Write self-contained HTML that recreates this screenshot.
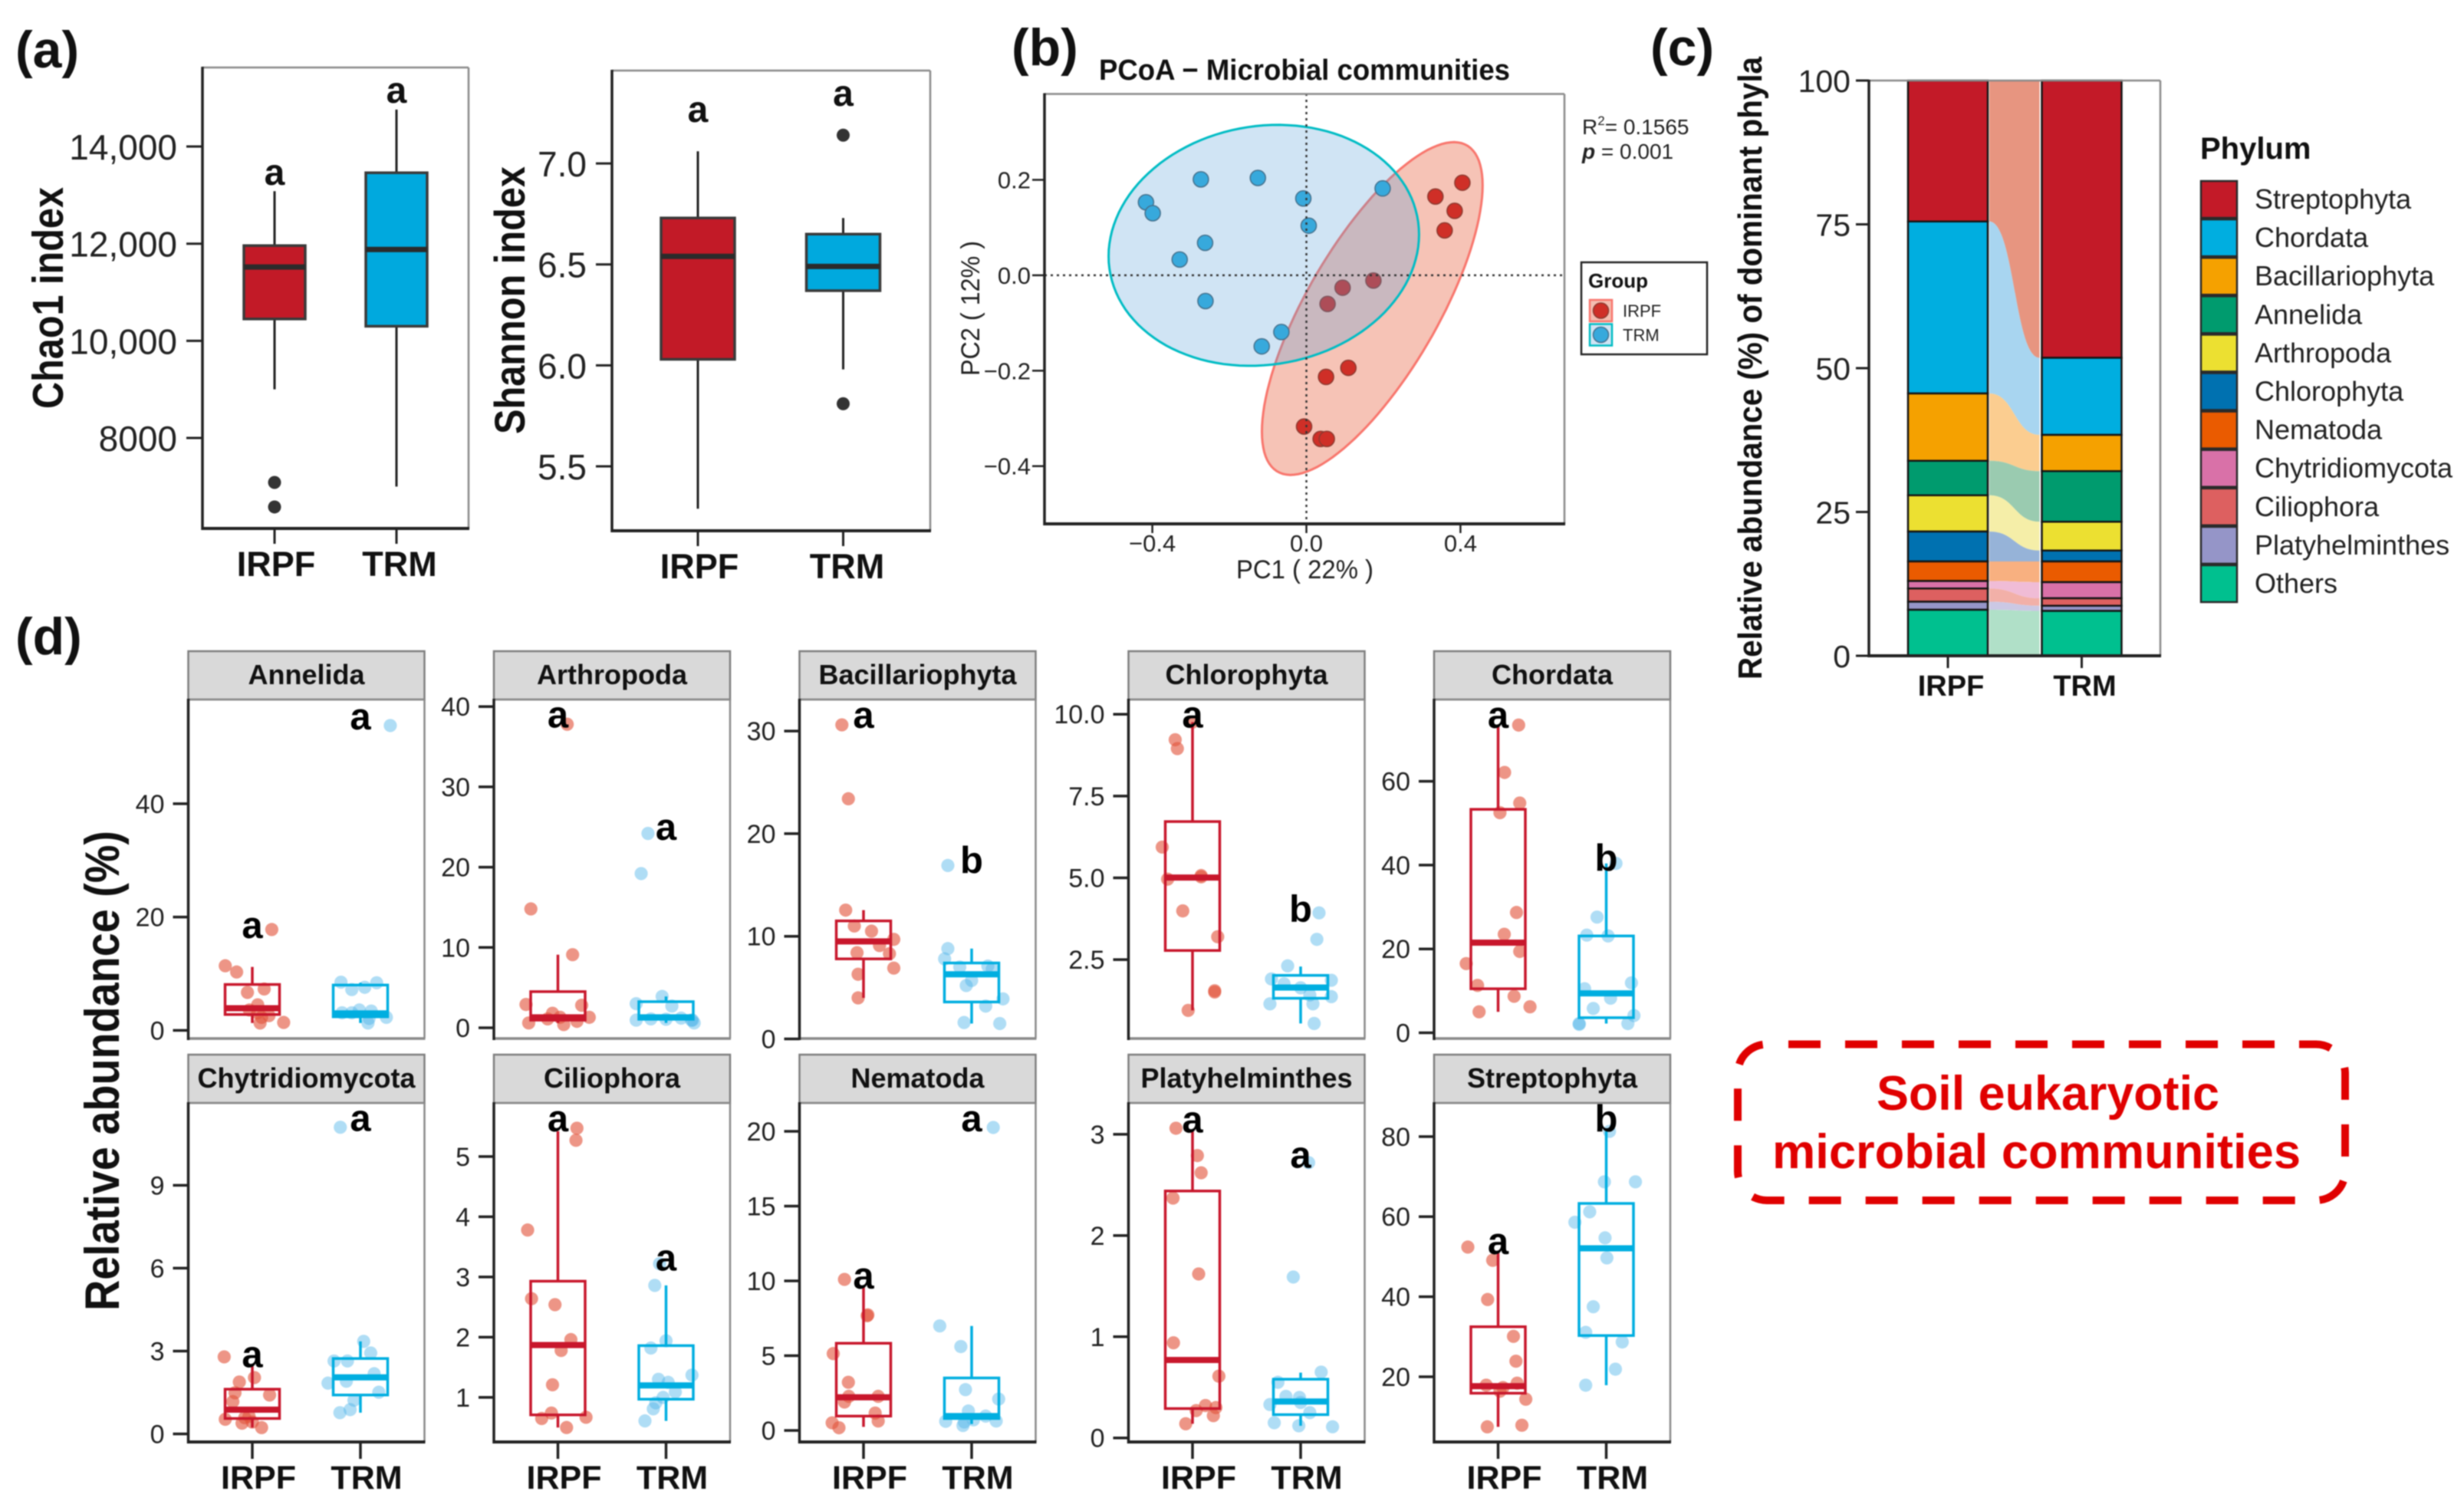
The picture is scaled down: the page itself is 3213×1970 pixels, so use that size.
<!DOCTYPE html>
<html lang="en">
<head>
<meta charset="utf-8">
<title>Soil eukaryotic microbial communities figure</title>
<style>
html,body{margin:0;padding:0;background:#fff}
svg{display:block;font-family:"Liberation Sans",Arial,sans-serif;filter:blur(0.7px)}
</style>
</head>
<body>
<svg id="figure" xmlns="http://www.w3.org/2000/svg" width="3213" height="1970" viewBox="0 0 3213 1970">
<rect x="0" y="0" width="3213" height="1970" fill="#fff"/>
<text x="20" y="88" font-size="68" font-weight="700" fill="#111">(a)</text>
<text x="1319" y="85" font-size="68" font-weight="700" fill="#111">(b)</text>
<text x="2152" y="85" font-size="68" font-weight="700" fill="#111">(c)</text>
<text x="20" y="853" font-size="68" font-weight="700" fill="#111">(d)</text>
<text x="1433" y="104" font-size="38" font-weight="700" fill="#111" textLength="536" lengthAdjust="spacingAndGlyphs">PCoA − Microbial communities</text>
<text x="2063" y="175" font-size="28" fill="#222">R<tspan font-size="17" dy="-12">2</tspan><tspan dy="12">= 0.1565</tspan></text>
<text x="2063" y="207" font-size="28" fill="#222"><tspan font-weight="700" font-style="italic">p</tspan> = 0.001</text>
<text transform="translate(82 533) rotate(-90)" font-size="57" font-weight="700" fill="#111" textLength="289" lengthAdjust="spacingAndGlyphs">Chao1 index</text>
<text transform="translate(684 566) rotate(-90)" font-size="56" font-weight="700" fill="#111" textLength="349" lengthAdjust="spacingAndGlyphs">Shannon index</text>
<text x="1612" y="754" font-size="34" fill="#222" textLength="179" lengthAdjust="spacingAndGlyphs">PC1 ( 22% )</text>
<text transform="translate(1277 490) rotate(-90)" font-size="34" fill="#222" textLength="176" lengthAdjust="spacingAndGlyphs">PC2 ( 12% )</text>
<text transform="translate(2297 886) rotate(-90)" font-size="44" font-weight="700" fill="#111" textLength="812" lengthAdjust="spacingAndGlyphs">Relative abundance (%) of dominant phyla</text>
<text transform="translate(155 1709) rotate(-90)" font-size="63" font-weight="700" fill="#111" textLength="626" lengthAdjust="spacingAndGlyphs">Relative abundance (%)</text>
<text x="2869" y="207" font-size="40" font-weight="700" fill="#111">Phylum</text>
<rect x="2266" y="1361.5" width="792" height="203.5" rx="38" ry="38" fill="none" stroke="#e00000" stroke-width="10" stroke-dasharray="42 32" stroke-dashoffset="46"/>
<text x="2447" y="1447" font-size="63" font-weight="700" fill="#e00000" textLength="447" lengthAdjust="spacingAndGlyphs">Soil eukaryotic</text>
<text x="2311" y="1523" font-size="63" font-weight="700" fill="#e00000" textLength="689" lengthAdjust="spacingAndGlyphs">microbial communities</text>
</svg>
<script>
/* ---------- panel (a) data ---------- */
const alphaGroups = ["IRPF", "TRM"];
const chaoTicks = ["8000", "10,000", "12,000", "14,000"];
const chaoIrpfBox = [9000, 10450, 11520, 11960, 13080];
const chaoTrmBox = [7000, 10300, 11880, 13460, 14760];
const chaoIrpfOutliers = [7085, 6580];
const chaoTrmOutliers = [];
const chaoLetters = ["a", "a"];
const chaoLetterValues = [13211, 14900];
const chaoDomain = [6137, 15627];
const shannonTicks = ["5.5", "6.0", "6.5", "7.0"];
const shannonIrpfBox = [5.29, 6.03, 6.54, 6.73, 7.06];
const shannonTrmBox = [5.98, 6.37, 6.49, 6.65, 6.73];
const shannonIrpfOutliers = [];
const shannonTrmOutliers = [7.14, 5.81];
const shannonLetters = ["a", "a"];
const shannonLetterValues = [7.205, 7.285];
const shannonDomain = [5.181, 7.46];

/* ---------- panel (b) data ---------- */
const pcoaXDomain = [-0.68, 0.67];
const pcoaYDomain = [-0.521, 0.38];
const pcoaXTicks = ["−0.4", "0.0", "0.4"];
const pcoaYTicks = ["−0.4", "−0.2", "0.0", "0.2"];
const irpfPc1 = [0.405, 0.335, 0.385, 0.359, 0.174, 0.094, 0.055, 0.109, 0.051, -0.006, 0.037, 0.053];
const irpfPc2 = [0.194, 0.165, 0.135, 0.094, -0.011, -0.026, -0.06, -0.194, -0.213, -0.317, -0.343, -0.343];
const trmPc1 = [-0.4165, -0.399, -0.274, -0.126, -0.008, 0.006, -0.263, -0.329, -0.262, -0.065, -0.116, 0.198];
const trmPc2 = [0.153, 0.13, 0.201, 0.204, 0.161, 0.104, 0.068, 0.033, -0.054, -0.119, -0.149, 0.182];
/* ellipse summary: centre x, centre y, half-extent x, half-extent y, correlation */
const irpfEllipse = [0.171, -0.0697, 0.2865, 0.3487, 0.74];
const trmEllipse = [-0.1106, 0.0627, 0.403, 0.2525, 0.09];

/* ---------- panel (c) data ---------- */
const phyla = ["Streptophyta", "Chordata", "Bacillariophyta", "Annelida", "Arthropoda", "Chlorophyta", "Nematoda", "Chytridiomycota", "Ciliophora", "Platyhelminthes", "Others"];
const irpfShares = [24.5, 29.9, 11.7, 6.0, 6.3, 5.2, 3.4, 1.3, 2.3, 1.4, 8.0];
const trmShares = [48.2, 13.4, 6.3, 8.8, 5.0, 1.9, 3.6, 2.8, 1.3, 0.9, 7.8];
const stackTicks = ["0", "25", "50", "75", "100"];
const phylumColors = ["#c31a28", "#00aee0", "#f5a100", "#009b6e", "#ece031", "#0071b0", "#ea5b00", "#d971a8", "#dd6060", "#9595c8", "#00c08f"];
const flowColors = ["#e79580", "#a8d5f0", "#fbcd90", "#9acbb0", "#f5eea8", "#96b3d8", "#f8b080", "#f0bcd6", "#f2b0a8", "#cbc8e4", "#b0e0c8"];

/* ---------- panel (d) data ---------- */
const facetNames = ["Annelida", "Arthropoda", "Bacillariophyta", "Chlorophyta", "Chordata", "Chytridiomycota", "Ciliophora", "Nematoda", "Platyhelminthes", "Streptophyta"];
const facetTicks = [
  ["0", "20", "40"],
  ["0", "10", "20", "30", "40"],
  ["0", "10", "20", "30"],
  ["2.5", "5.0", "7.5", "10.0"],
  ["0", "20", "40", "60"],
  ["0", "3", "6", "9"],
  ["1", "2", "3", "4", "5"],
  ["0", "5", "10", "15", "20"],
  ["0", "1", "2", "3"],
  ["20", "40", "60", "80"]
];
const facetYMin = [-1.44, -1.34, 0.04, 0.09, -1.37, -0.29, 0.26, -0.77, -0.04, 3.72];
const facetYMax = [58.4, 40.88, 33.07, 10.45, 79.5, 11.98, 5.89, 21.9, 3.31, 88.4];
const irpfValues = [
  [17.8, 11.4, 10.3, 6.7, 7.3, 4.5, 3.1, 2.3, 2.6, 1.3, 1.4, 3.6],
  [37.8, 14.8, 9.1, 2.9, 2.8, 0.6, 1.8, 0.4, 0.8, 1.3, 1.3, 1.1],
  [30.6, 23.4, 12.55, 11, 10.5, 9.7, 9.1, 8.4, 8.3, 6.9, 6.3, 4],
  [9.22, 8.95, 5.94, 4.96, 5.03, 3.99, 3.2, 1.55, 1.51, 0.95, 9.76, 5.07],
  [73.4, 62.1, 54.8, 52.5, 28.7, 23.5, 19.4, 16.5, 11.3, 8.7, 6.2, 5],
  [2.79, 2.04, 1.88, 1.41, 1.49, 1.17, 0.53, 0.39, 0.64, 0.43, 0.23, 0.59],
  [5.47, 5.27, 3.78, 2.64, 2.54, 1.96, 1.78, 1.21, 0.74, 0.65, 0.67, 0.5],
  [10.1, 7.67, 5.14, 3.22, 2.28, 2.28, 1.9, 1.16, 0.63, 0.51, 0.18, 7.73],
  [3.06, 2.79, 2.62, 2.37, 1.62, 0.94, 0.61, 0.32, 0.27, 0.3, 0.22, 0.14],
  [52.4, 49.1, 39.3, 30.1, 23.9, 18.4, 17.3, 16.4, 14.4, 7.5, 7.9, 17.9]
];
const irpfJitter = [
  [0.18, -0.25, -0.145, -0.045, 0.11, 0.05, 0.05, 0.086, 0.154, 0.072, 0.29, -0.027],
  [0.086, -0.25, 0.136, -0.295, 0.22, -0.27, -0.05, 0.054, 0.176, 0.29, 0.02, -0.095],
  [-0.2, -0.14, -0.165, -0.085, 0.074, 0.28, 0.148, -0.06, 0.24, 0.28, -0.05, -0.05],
  [-0.16, -0.14, -0.28, -0.23, 0.08, -0.09, 0.233, 0.205, 0.205, -0.04, 0, 0.08],
  [0.19, 0.06, 0.2, 0.017, 0.17, 0.057, 0.2, -0.295, -0.19, 0.148, 0.295, -0.176],
  [-0.26, 0.02, -0.12, 0.16, -0.16, -0.18, -0.25, -0.095, -0.03, 0, 0.086, -0.07],
  [0.176, 0.167, -0.28, -0.244, -0.027, 0.12, 0.03, -0.05, -0.06, -0.15, 0.26, 0.08],
  [-0.176, 0.034, -0.28, -0.14, -0.136, 0.136, -0.176, 0.108, 0.136, -0.29, -0.227, 0.04],
  [-0.153, 0.045, 0.08, -0.18, 0.057, -0.176, 0.244, 0.12, 0.034, 0.216, 0.193, -0.0625],
  [-0.28, -0.05, -0.097, 0.142, 0.165, 0.176, 0.045, 0.017, 0.256, -0.1, 0.22, -0.11]
];
const trmValues = [
  [53.8, 8.5, 7.2, 7.6, 8.4, 3.6, 3.4, 2.3, 1.3, 2.1, 3.1, 3.1],
  [24.2, 19.2, 3.9, 2.7, 3.0, 0.95, 1.1, 1.06, 1.2, 0.95, 0.6, 0.95],
  [16.9, 8.8, 7.8, 7.0, 7.1, 5.7, 5.2, 3.9, 3.2, 1.6, 1.5, 6.8],
  [3.93, 3.12, 2.31, 1.91, 1.76, 1.87, 1.37, 1.15, 1.15, 0.55, 1.42, 1.64],
  [40.4, 27.6, 23.3, 23.1, 11.9, 10.5, 8.25, 5.8, 4.1, 2.2, 2, 2.2],
  [11.1, 3.35, 2.93, 2.64, 2.64, 2.18, 1.84, 1.91, 1.51, 1.22, 0.88, 0.77],
  [3.22, 2.86, 1.94, 1.82, 1.37, 1.3, 1.09, 1.0, 0.91, 0.81, 0.61, 1.25],
  [20.26, 6.99, 5.61, 2.73, 2.1, 1.3, 0.61, 0.33, 0.63, 0.71, 0.57, 0.96],
  [2.72, 1.59, 0.65, 0.55, 0.33, 0.41, 0.4, 0.25, 0.15, 0.12, 0.11, 0.35],
  [81.3, 68.7, 68.7, 61.2, 58.6, 54.7, 49.7, 37.5, 31.1, 28.7, 21.9, 17.9]
];
const trmJitter = [
  [0.276, -0.18, -0.08, 0.04, 0.15, -0.01, 0.1, 0.24, 0.07, 0.08, -0.08, -0.17],
  [-0.167, -0.23, -0.036, 0.054, -0.276, -0.276, -0.14, 0, 0.14, 0.235, 0.26, 0.244],
  [-0.22, -0.22, -0.25, -0.11, 0.15, 0, -0.05, 0.29, 0.13, -0.07, 0.26, 0.19],
  [0.17, 0.15, -0.12, -0.27, -0.153, 0.284, 0.284, -0.284, 0.114, 0.125, 0.085, 0],
  [0.09, -0.085, -0.18, 0.017, 0.233, -0.2, 0.04, -0.12, 0.256, -0.25, -0.25, 0.2],
  [-0.186, 0.03, 0.095, -0.244, -0.12, 0.127, -0.3, -0.13, 0.17, -0.06, -0.095, -0.19],
  [-0.06, -0.104, 0, -0.14, 0.24, -0.07, 0.086, -0.027, -0.095, -0.118, -0.195, 0.02],
  [0.2, -0.295, -0.1, -0.057, 0.25, -0.03, -0.24, -0.08, 0.227, 0.017, -0.068, 0.13],
  [0.074, -0.068, 0.19, -0.21, -0.284, -0.136, -0.011, 0.085, -0.244, -0.017, 0.295, 0],
  [0.03, -0.017, 0.27, -0.153, -0.29, -0.011, 0.006, -0.12, -0.19, 0.148, 0.085, -0.19]
];
/* box summaries: low whisker, q1, median, q3, high whisker */
const irpfBoxes = [
  [1.3, 2.8, 3.9, 8.1, 11.2],
  [0.6, 0.95, 1.3, 4.5, 9.1],
  [4, 7.8, 9.5, 11.5, 12.55],
  [0.95, 2.78, 5.01, 6.72, 9.76],
  [5, 10.5, 21.5, 53.3, 73.4],
  [0.23, 0.56, 0.88, 1.62, 2.45],
  [0.5, 0.71, 1.87, 2.93, 5.42],
  [0.24, 0.96, 2.22, 5.83, 9.7],
  [0.14, 0.29, 0.77, 2.44, 3.04],
  [7.5, 15.9, 17.65, 32.5, 50.9]
];
const trmBoxes = [
  [1.3, 2.4, 3.0, 8.0, 8.4],
  [0.6, 1.06, 1.3, 3.25, 3.9],
  [1.5, 3.6, 6.3, 7.4, 8.8],
  [0.55, 1.32, 1.65, 2.02, 2.29],
  [2.2, 3.6, 9.4, 23.1, 40.4],
  [0.77, 1.41, 2.05, 2.73, 3.35],
  [0.61, 0.97, 1.2, 1.86, 2.86],
  [0.43, 0.8, 0.96, 3.51, 6.99],
  [0.12, 0.23, 0.36, 0.58, 0.645],
  [17.9, 30.3, 52.1, 63.3, 81.3]
];
const irpfLetters = ["a", "a", "a", "a", "a", "a", "a", "a", "a", "a"];
const trmLetters = ["a", "a", "b", "b", "b", "a", "a", "a", "a", "b"];
const irpfLetterValues = [16.3, 37.4, 30.3, 9.6, 72.7, 2.41, 5.42, 9.5, 3.02, 50.7];
const trmLetterValues = [53.1, 23.4, 16.2, 3.66, 38.7, 10.96, 3.11, 20.0, 2.67, 81.3];

/* ---------- drawing helpers ---------- */
const NS = "http://www.w3.org/2000/svg";
const figure = document.getElementById("figure");
const DARK = "#222";
const FRAME_GREY = "#8a8a8a";
const RED = "#c8172c";
const BLUE = "#00aee0";

function scale(domain, range) {
  return function (v) {
    return range[0] + (v - domain[0]) / (domain[1] - domain[0]) * (range[1] - range[0]);
  };
}
function add(parent, tag, attrs, name, text) {
  const el = document.createElementNS(NS, tag);
  for (const k of Object.keys(attrs)) el.setAttribute(k, attrs[k]);
  
  
  if (text !== undefined) el.textContent = text;
  parent.appendChild(el);
  return el;
}
function group(name) {
  return add(figure, "g", {}, name);
}
function line(p, x1, y1, x2, y2, stroke, w, name, extra) {
  return add(p, "line", Object.assign({ x1: x1, y1: y1, x2: x2, y2: y2, stroke: stroke, "stroke-width": w }, extra || {}), name);
}
function label(p, x, y, str, size, weight, anchor, fill, name) {
  return add(p, "text", { x: x, y: y, "font-size": size, "font-weight": weight, "text-anchor": anchor, fill: fill }, name, str);
}
function frame(p, x0, y0, x1, y1, bottomDark, prefix) {
  line(p, x0, y0, x1, y0, FRAME_GREY, 2.5, prefix + "-frame-top");
  line(p, x1, y0, x1, y1, FRAME_GREY, 2.5, prefix + "-frame-right");
  line(p, x0, y1, x1 + 1, y1, bottomDark ? DARK : FRAME_GREY, bottomDark ? 4 : 3.5, prefix + "-frame-bottom");
  line(p, x0, y0 - 1, x0, y1 + 2, DARK, 3.5, prefix + "-frame-left");
}
function tickNumber(s) {
  return parseFloat(s.replace("−", "-").replace(",", ""));
}

/* ---------- panel (a) ---------- */
function drawAlpha(prefix, rect, domain, ticks, boxes, outliers, letters, letterValues, cats, boxW, labelOffset) {
  const g = group(prefix + "-boxplot");
  const y = scale(domain, [rect[3], rect[1]]);
  const x = scale([0, 1], cats);
  const colors = ["#c21a27", "#00a9de"];
  boxes.forEach(function (b, i) {
    const cx = x(i);
    line(g, cx, y(b[0]), cx, y(b[4]), DARK, 3, prefix + "-whisker-" + alphaGroups[i]);
    add(g, "rect", { x: cx - boxW / 2, y: y(b[3]), width: boxW, height: y(b[1]) - y(b[3]), fill: colors[i], stroke: "#3a3a3a", "stroke-width": 3.5 }, prefix + "-box-" + alphaGroups[i]);
    line(g, cx - boxW / 2, y(b[2]), cx + boxW / 2, y(b[2]), "#2b2b2b", 7, prefix + "-median-" + alphaGroups[i]);
    outliers[i].forEach(function (v) {
      add(g, "circle", { cx: cx, cy: y(v), r: 8.5, fill: "#333" }, prefix + "-outlier-" + alphaGroups[i]);
    });
    label(g, cx, y(letterValues[i]), letters[i], 48, 700, "middle", "#111", prefix + "-significance-" + alphaGroups[i]);
    line(g, cx, rect[3], cx, rect[3] + 20, DARK, 3, prefix + "-x-tick-" + alphaGroups[i]);
    label(g, cx + labelOffset[i], rect[3] + 62, alphaGroups[i], 45, 700, "middle", "#111", prefix + "-x-label-" + alphaGroups[i]);
  });
  ticks.forEach(function (t) {
    const ty = y(tickNumber(t));
    line(g, rect[0] - 21, ty, rect[0], ty, DARK, 3, prefix + "-y-tick-" + t);
    label(g, rect[0] - 33, ty + 17, t, 46, 400, "end", "#222", prefix + "-y-label-" + t);
  });
  frame(g, rect[0], rect[1], rect[2], rect[3], true, prefix);
}
drawAlpha("chao1", [264, 88, 611, 689], chaoDomain, chaoTicks, [chaoIrpfBox, chaoTrmBox], [chaoIrpfOutliers, chaoTrmOutliers], chaoLetters, chaoLetterValues, [358, 517], 80, [2, 4]);
drawAlpha("shannon", [798, 92, 1213, 692], shannonDomain, shannonTicks, [shannonIrpfBox, shannonTrmBox], [shannonIrpfOutliers, shannonTrmOutliers], shannonLetters, shannonLetterValues, [910, 1099.5], 96, [2, 5]);

/* ---------- panel (b) ---------- */
const pcoa = group("pcoa-plot");
const px = scale(pcoaXDomain, [1362, 2040]);
const py = scale(pcoaYDomain, [683, 122.5]);
function ellipsePath(e) {
  let d = "";
  const sr = Math.sqrt(1 - e[4] * e[4]);
  for (let i = 0; i <= 120; i++) {
    const t = i / 120 * Math.PI * 2;
    const vx = e[0] + e[2] * Math.cos(t);
    const vy = e[1] + e[3] * (e[4] * Math.cos(t) + sr * Math.sin(t));
    d += (i ? "L" : "M") + px(vx).toFixed(1) + " " + py(vy).toFixed(1);
  }
  return d + "Z";
}
add(pcoa, "path", { d: ellipsePath(irpfEllipse), fill: "#e8603f", "fill-opacity": 0.38, stroke: "#f8766d", "stroke-width": 3 }, "irpf-ellipse");
irpfPc1.forEach(function (v, i) {
  add(pcoa, "circle", { cx: px(v), cy: py(irpfPc2[i]), r: 10, fill: "#cf2f27", stroke: "#8c3a30", "stroke-width": 1.5 }, "irpf-point");
});
add(pcoa, "path", { d: ellipsePath(trmEllipse), fill: "#579fd8", "fill-opacity": 0.28, stroke: "#00bcc4", "stroke-width": 3 }, "trm-ellipse");
trmPc1.forEach(function (v, i) {
  add(pcoa, "circle", { cx: px(v), cy: py(trmPc2[i]), r: 10, fill: "#37a9dc", stroke: "#44708c", "stroke-width": 1.5 }, "trm-point");
});
line(pcoa, 1362, py(0), 2040, py(0), "#333", 2.5, "pcoa-horizontal-zero-line", { "stroke-dasharray": "3 5" });
line(pcoa, px(0), 122, px(0), 683, "#333", 2.5, "pcoa-vertical-zero-line", { "stroke-dasharray": "3 5" });
pcoaXTicks.forEach(function (t) {
  const tx = px(tickNumber(t));
  line(pcoa, tx, 683, tx, 695, DARK, 2.5, "pcoa-x-tick-" + t);
  label(pcoa, tx, 719, t, 31, 400, "middle", "#222", "pcoa-x-label-" + t);
});
pcoaYTicks.forEach(function (t) {
  const ty = py(tickNumber(t));
  line(pcoa, 1346, ty, 1362, ty, DARK, 2.5, "pcoa-y-tick-" + t);
  label(pcoa, 1344, ty + 11, t, 31, 400, "end", "#222", "pcoa-y-label-" + t);
});
frame(pcoa, 1362, 122.5, 2040, 683, true, "pcoa");
add(pcoa, "rect", { x: 2062, y: 342, width: 164, height: 120, fill: "#fff", stroke: "#222", "stroke-width": 2.5 }, "group-legend-box");
label(pcoa, 2071, 375, "Group", 26, 700, "start", "#111", "group-legend-title");
const legendKeys = ["IRPF", "TRM"];
legendKeys.forEach(function (name, i) {
  const ky = 390 + i * 31.5;
  const colorsFill = i === 0 ? "#f4bdb0" : "#cfe4f4";
  const colorsLine = i === 0 ? "#f8766d" : "#00bcc4";
  add(pcoa, "rect", { x: 2073, y: ky + 1, width: 29, height: 28, fill: colorsFill, stroke: colorsLine, "stroke-width": 2.5 }, "group-legend-key-" + name);
  add(pcoa, "circle", { cx: 2087.5, cy: ky + 15, r: 10, fill: i === 0 ? "#cf2f27" : "#37a9dc", stroke: i === 0 ? "#8c3a30" : "#44708c", "stroke-width": 1.5 }, "group-legend-dot-" + name);
  label(pcoa, 2116, ky + 23, name, 22, 400, "start", "#222", "group-legend-label-" + name);
});

/* ---------- panel (c) ---------- */
const stack = group("stacked-bar-plot");
const sy = scale([0, 100], [855, 105]);
const sx = scale([0, 1], [2540, 2714.5]);
const barW = 104;
let topIrpf = 100;
let topTrm = 100;
phyla.forEach(function (name, i) {
  const botIrpf = topIrpf - irpfShares[i];
  const botTrm = topTrm - trmShares[i];
  const xa = sx(0) + barW / 2 + 2;
  const xb = sx(1) - barW / 2 - 3;
  const xm = (xa + xb) / 2;
  const d = "M" + xa + " " + sy(topIrpf) +
    "C" + xm + " " + sy(topIrpf) + " " + xm + " " + sy(topTrm) + " " + xb + " " + sy(topTrm) +
    "L" + xb + " " + sy(botTrm) +
    "C" + xm + " " + sy(botTrm) + " " + xm + " " + sy(botIrpf) + " " + xa + " " + sy(botIrpf) + "Z";
  add(stack, "path", { d: d, fill: flowColors[i] }, "flow-" + name);
  add(stack, "rect", { x: sx(0) - barW / 2, y: sy(topIrpf), width: barW, height: sy(botIrpf) - sy(topIrpf), fill: phylumColors[i], stroke: "#151515", "stroke-width": 2.5 }, "bar-IRPF-" + name);
  add(stack, "rect", { x: sx(1) - barW / 2, y: sy(topTrm), width: barW, height: sy(botTrm) - sy(topTrm), fill: phylumColors[i], stroke: "#151515", "stroke-width": 2.5 }, "bar-TRM-" + name);
  topIrpf = botIrpf;
  topTrm = botTrm;
  const ly = 235 + i * 50.1;
  add(stack, "rect", { x: 2870, y: ly + 1, width: 47, height: 48, fill: phylumColors[i], stroke: "#2a2a2a", "stroke-width": 2.5 }, "legend-swatch-" + name);
  label(stack, 2940, ly + 37, name, 36, 400, "start", "#222", "legend-label-" + name);
});
stackTicks.forEach(function (t) {
  const ty = sy(tickNumber(t));
  line(stack, 2420, ty, 2437, ty, DARK, 3, "stack-y-tick-" + t);
  label(stack, 2413, ty + 15, t, 41, 400, "end", "#222", "stack-y-label-" + t);
});
alphaGroups.forEach(function (name, i) {
  line(stack, sx(i), 855, sx(i), 871, DARK, 3, "stack-x-tick-" + name);
  label(stack, sx(i) + 4, 907, name, 38, 700, "middle", "#111", "stack-x-label-" + name);
});
frame(stack, 2437, 105, 2817, 855, true, "stack");

/* ---------- panel (d) ---------- */
const facetLefts = [245.5, 644, 1042.5, 1471.5, 1870];
const facetW = 308;
const stripH = 63;
const rowTops = [912, 1438];
const rowBottoms = [1354, 1880];

function drawFacet(f) {
  const name = facetNames[f];
  const g = group("facet-" + name);
  const col = f % 5;
  const row = f < 5 ? 0 : 1;
  const left = facetLefts[col];
  const right = left + facetW;
  const top = rowTops[row];
  const bottom = rowBottoms[row];
  const y = scale([facetYMin[f], facetYMax[f]], [bottom, top]);
  const x = scale([0, 1], [left + 83.5, left + 224.5]);

  add(g, "rect", { x: left, y: top - stripH, width: facetW, height: stripH, fill: "#d9d9d9", stroke: "#7f7f7f", "stroke-width": 2.5 }, name + "-strip");
  label(g, left + facetW / 2, top - 20, name, 36, 700, "middle", "#111", name + "-strip-label");

  const seriesValues = [irpfValues[f], trmValues[f]];
  const seriesJitter = [irpfJitter[f], trmJitter[f]];
  const seriesBoxes = [irpfBoxes[f], trmBoxes[f]];
  const seriesLetters = [irpfLetters[f], trmLetters[f]];
  const seriesLetterValues = [irpfLetterValues[f], trmLetterValues[f]];
  const pointFill = ["#e2543c", "#4db4e8"];
  const pointAlpha = [0.62, 0.45];
  const lineColor = [RED, BLUE];

  alphaGroups.forEach(function (gname, i) {
    seriesValues[i].forEach(function (v, k) {
      add(g, "circle", { cx: x(i + seriesJitter[i][k]), cy: y(v), r: 8.6, fill: pointFill[i], "fill-opacity": pointAlpha[i] }, name + "-point-" + gname);
    });
    const b = seriesBoxes[i];
    const cx = x(i);
    const bw = 71;
    line(g, cx, y(b[0]), cx, y(b[1]), lineColor[i], 3.5, name + "-lower-whisker-" + gname);
    line(g, cx, y(b[3]), cx, y(b[4]), lineColor[i], 3.5, name + "-upper-whisker-" + gname);
    add(g, "rect", { x: cx - bw / 2, y: y(b[3]), width: bw, height: y(b[1]) - y(b[3]), fill: "none", stroke: lineColor[i], "stroke-width": 3.5 }, name + "-box-" + gname);
    line(g, cx - bw / 2, y(b[2]), cx + bw / 2, y(b[2]), lineColor[i], 8, name + "-median-" + gname);
  });
  alphaGroups.forEach(function (gname, i) {
    label(g, x(i), y(seriesLetterValues[i]), seriesLetters[i], 49, 700, "middle", "#000", name + "-significance-" + gname);
  });
  facetTicks[f].forEach(function (t) {
    const ty = y(tickNumber(t));
    line(g, left - 20, ty, left, ty, DARK, 3.5, name + "-y-tick-" + t);
    label(g, left - 31, ty + 12, t, 34, 400, "end", "#222", name + "-y-label-" + t);
  });
  if (row === 1) {
    alphaGroups.forEach(function (gname, i) {
      line(g, x(i), bottom, x(i), bottom + 22, DARK, 3.5, name + "-x-tick-" + gname);
      label(g, x(i) + 8, 1941, gname, 43, 700, "middle", "#111", name + "-x-label-" + gname);
    });
  }
  frame(g, left, top, right, bottom, row === 1, name);
}
facetNames.forEach(function (n, f) {
  drawFacet(f);
});
</script>
</body>
</html>
